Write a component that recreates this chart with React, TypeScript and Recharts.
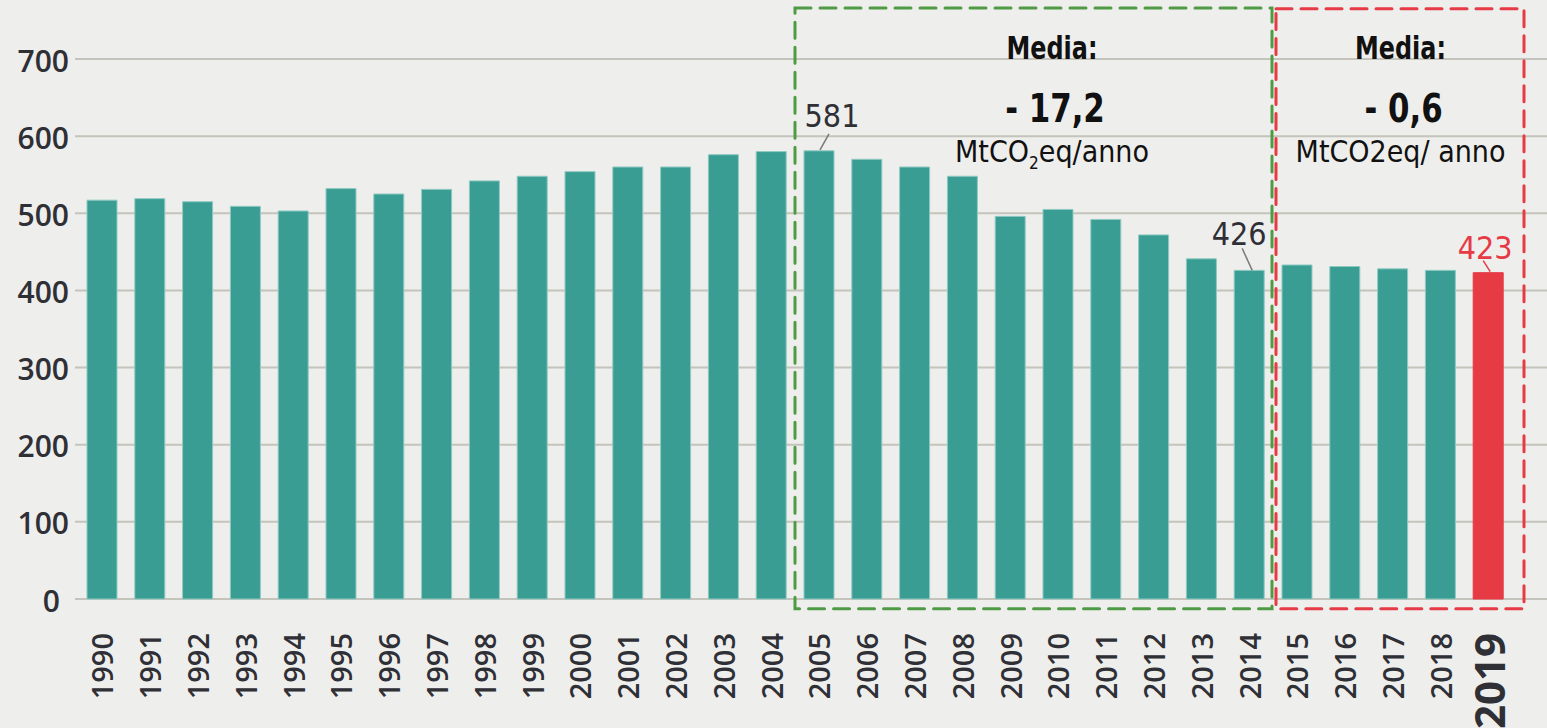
import React from "react";
import {
  Bar,
  BarChart,
  CartesianGrid,
  Cell,
  LabelList,
  ReferenceArea,
  XAxis,
  YAxis,
} from "recharts";

const YEARS = [
  "1990", "1991", "1992", "1993", "1994", "1995", "1996", "1997", "1998", "1999",
  "2000", "2001", "2002", "2003", "2004", "2005", "2006", "2007", "2008", "2009",
  "2010", "2011", "2012", "2013", "2014", "2015", "2016", "2017", "2018", "2019",
];
const EMISSIONS = [
  517, 519, 515, 509, 503, 532, 525, 531, 542, 548,
  554, 560, 560, 576, 580, 581, 570, 560, 548, 496,
  505, 492, 472, 441, 426, 433, 431, 428, 426, 423,
];
const Y_TICKS = [0, 100, 200, 300, 400, 500, 600, 700];
const LABELLED_YEARS = ["2005", "2014", "2019"];
const HIGHLIGHT_YEAR = "2019";

const TEAL = "#3a9d93";
const RED = "#e63a45";
const GREEN = "#4f9a45";
const INK = "#2f2f36";
const BG = "#eeeeec";
const COND = "'Liberation Sans Narrow', 'DejaVu Sans Condensed', Roboto, sans-serif";
const TICK_FONT = "'Open Sans', 'DejaVu Sans', sans-serif";

const data = YEARS.map((year, i) => ({ year, value: EMISSIONS[i] }));

// where each value label sits relative to its bar top
const LABEL_POS: Record<string, { dx: number; dy: number; line: [number, number, number, number]; color: string }> = {
  "2005": { dx: 13, dy: -24, line: [1, -1, 10, -17], color: INK },
  "2014": { dx: -10, dy: -25, line: [3, 0, -7, -22], color: INK },
  "2019": { dx: -3, dy: -14, line: [2, -1, -5, -12], color: RED },
};

function ValueLabel(props: any) {
  const { x, y, width, index } = props;
  const year = YEARS[index];
  if (!LABELLED_YEARS.includes(year)) return null;
  const p = LABEL_POS[year];
  const cx = x + width / 2;
  return (
    <g>
      <line
        x1={cx + p.line[0]}
        y1={y + p.line[1]}
        x2={cx + p.line[2]}
        y2={y + p.line[3]}
        stroke={year === HIGHLIGHT_YEAR ? RED : "#7a7a7a"}
        strokeWidth={1.5}
      />
      <text
        x={cx + p.dx}
        y={y + p.dy}
        textAnchor="middle"
        fontFamily={COND}
        fontSize={32}
        fontWeight={500}
        fill={p.color}
      >
        {EMISSIONS[index]}
      </text>
    </g>
  );
}

function YTick(props: any) {
  const { y, payload } = props;
  const v = payload.value;
  return (
    <text
      x={v === 0 ? 60 : 69}
      y={y + 1}
      textAnchor="end"
      dominantBaseline="central"
      fontFamily={TICK_FONT}
      fontWeight={600}
      fontSize={30}
      fill={INK}
    >
      {v}
    </text>
  );
}

function XTick(props: any) {
  const { x, payload } = props;
  const big = payload.value === HIGHLIGHT_YEAR;
  const ty = 633;
  return (
    <text
      x={x}
      y={ty}
      transform={`rotate(-90, ${x}, ${ty})`}
      textAnchor="end"
      dominantBaseline="central"
      fontFamily={TICK_FONT}
      fontWeight={big ? 700 : 600}
      fontSize={big ? 42 : 29}
      fill={INK}
    >
      {payload.value}
    </text>
  );
}

function BoxLabel({ viewBox, dx, value, sub }: any) {
  const cx = viewBox.x + viewBox.width / 2 + dx;
  return (
    <g fill="#111" fontFamily={COND} textAnchor="middle">
      <text transform={`translate(${cx}, 59) scale(0.83, 1)`} fontSize={32} fontWeight={700}>Media:</text>
      <text transform={`translate(${cx + 3}, 122) scale(0.88, 1)`} fontSize={39} fontWeight={700}>{value}</text>
      {sub ? (
        <text x={cx} y={162} fontSize={30} fontWeight={500}>
          MtCO<tspan fontSize={17} dy={7}>2</tspan>
          <tspan dy={-7}>eq/anno</tspan>
        </text>
      ) : (
        <text x={cx} y={162} fontSize={30} fontWeight={500}>MtCO2eq/ anno</text>
      )}
    </g>
  );
}

function DashedBox(props: any) {
  const { x, y, width, height, stroke, extraRight, shiftLeft } = props;
  return (
    <rect
      x={x + (shiftLeft ?? 0)}
      y={y}
      width={width - (shiftLeft ?? 0) + (extraRight ?? 0)}
      height={height}
      fill="none"
      stroke={stroke}
      strokeWidth={3}
      strokeDasharray="16 9"
      strokeLinecap="round"
    />
  );
}

export default function App() {
  return (
    <div style={{ position: "absolute", left: 0, top: 0, width: 1547, height: 728, background: BG }}>
      <BarChart
        width={1547}
        height={728}
        data={data}
        margin={{ top: 59, right: 0, left: 0, bottom: 0 }}
        barSize={30}
      >
        <CartesianGrid horizontal vertical={false} stroke="#c4c4bc" strokeWidth={2} />
        <XAxis
          dataKey="year"
          height={129}
          axisLine={false}
          tickLine={false}
          interval={0}
          padding={{ left: 3, right: 35 }}
          tick={<XTick />}
        />
        <YAxis
          width={75}
          domain={[0, 700]}
          ticks={Y_TICKS}
          axisLine={false}
          tickLine={false}
          tick={<YTick />}
        />
        <Bar dataKey="value" fill={TEAL} stroke="#8fcac2" strokeWidth={1} isAnimationActive={false}>
          {data.map((d) => (
            <Cell key={d.year} fill={d.year === HIGHLIGHT_YEAR ? RED : TEAL} stroke={d.year === HIGHLIGHT_YEAR ? RED : "#8fcac2"} />
          ))}
          <LabelList dataKey="value" content={<ValueLabel />} />
        </Bar>
        <ReferenceArea
          x1="2005"
          x2="2014"
          y1={-12.5}
          y2={766}
          ifOverflow="visible"
          shape={(p: any) => <DashedBox {...p} stroke={GREEN} extraRight={-1} />}
          label={(p: any) => <BoxLabel {...p} dx={18} value="- 17,2" sub />}
        />
        <ReferenceArea
          x1="2015"
          x2="2019"
          y1={-12.5}
          y2={765}
          ifOverflow="visible"
          shape={(p: any) => <DashedBox {...p} stroke={RED} shiftLeft={3} extraRight={12} />}
          label={(p: any) => <BoxLabel {...p} dx={8} value="- 0,6" />}
        />
      </BarChart>
    </div>
  );
}
